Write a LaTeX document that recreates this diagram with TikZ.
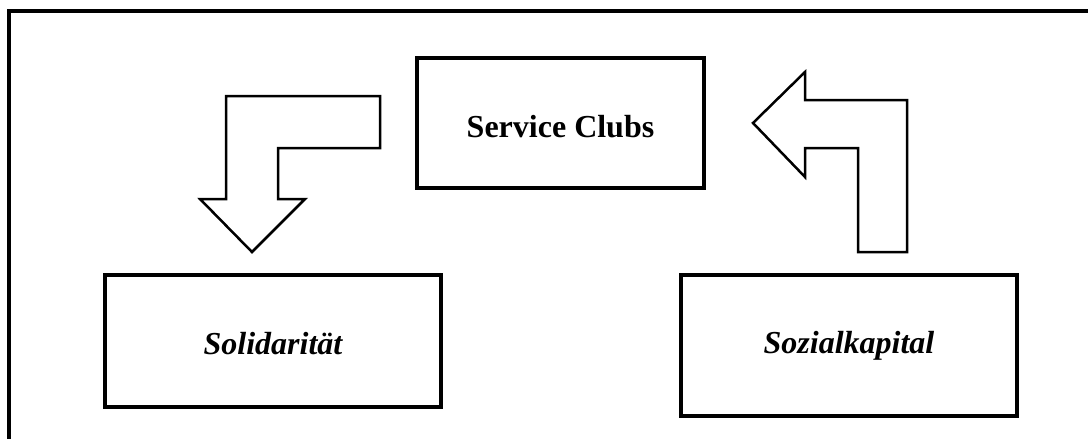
\documentclass[tikz,border=0pt]{standalone}
\usepackage{fontspec}
\setmainfont{Liberation Serif}
\begin{document}
\begin{tikzpicture}[x=1pt,y=-1pt,
    box/.style={draw,line width=4pt,inner sep=0pt,font=\fontsize{32}{38}\selectfont\bfseries},
    bendarrow/.style={draw,line width=2.5pt,line join=miter}]
  \useasboundingbox (0,0) rectangle (1088,439);
  \draw[line width=4pt] (9,11) rectangle (1090.5,470);

  \node[box,minimum width=287pt,minimum height=129.5pt,text height=29pt,text depth=0pt] (clubs) at (560.5,123) {Service Clubs};
  \node[box,minimum width=336pt,minimum height=132pt,text height=26pt,text depth=0pt] (solid) at (273,341) {\itshape Solidarität};
  \node[box,minimum width=336pt,minimum height=141pt] (kapital) at (849,345.5) {\itshape Sozialkapital};

  % bent arrow from the clubs down to Solidaritaet
  \draw[bendarrow] (226,96) -- (380,96) -- (380,148) -- (278,148) -- (278,199)
    -- (305,199) -- (252,252) -- (200,199) -- (226,199) -- cycle;
  % bent arrow from Sozialkapital up to the clubs
  \draw[bendarrow] (753,123) -- (805,72) -- (805,100) -- (907,100) -- (907,252)
    -- (858,252) -- (858,148) -- (805,148) -- (805,177) -- cycle;
\end{tikzpicture}
\end{document}
